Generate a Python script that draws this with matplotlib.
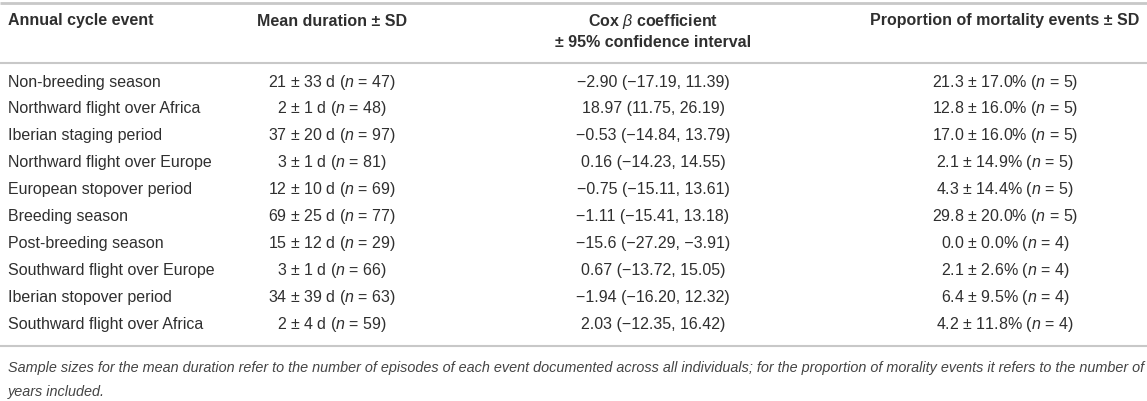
import matplotlib.pyplot as plt

plt.rcParams['font.family'] = ['Liberation Sans', 'DejaVu Sans']
plt.rcParams['mathtext.fontset'] = 'custom'
plt.rcParams['mathtext.rm'] = 'Liberation Sans'
plt.rcParams['mathtext.it'] = 'Liberation Sans:italic'
plt.rcParams['mathtext.bf'] = 'Liberation Sans:bold'

# Données du tableau
events = ["Non-breeding season", "Northward flight over Africa", "Iberian staging period",
          "Northward flight over Europe", "European stopover period", "Breeding season",
          "Post-breeding season", "Southward flight over Europe", "Iberian stopover period",
          "Southward flight over Africa"]
mean_dur = [21, 2, 37, 3, 12, 69, 15, 3, 34, 2]
sd_dur = [33, 1, 20, 1, 10, 25, 12, 1, 39, 4]
n_dur = [47, 48, 97, 81, 69, 77, 29, 66, 63, 59]
cox_beta = ["−2.90", "18.97", "−0.53", "0.16", "−0.75", "−1.11", "−15.6", "0.67", "−1.94", "2.03"]
ci_lo = ["−17.19", "11.75", "−14.84", "−14.23", "−15.11", "−15.41", "−27.29", "−13.72", "−16.20", "−12.35"]
ci_hi = ["11.39", "26.19", "13.79", "14.55", "13.61", "13.18", "−3.91", "15.05", "12.32", "16.42"]
prop = [21.3, 12.8, 17.0, 2.1, 4.3, 29.8, 0.0, 2.1, 6.4, 4.2]
prop_sd = [17.0, 16.0, 16.0, 14.9, 14.4, 20.0, 0.0, 2.6, 9.5, 11.8]
n_prop = [5, 5, 5, 5, 5, 5, 4, 4, 4, 4]

headers = ["Annual cycle event", "Mean duration ± SD",
           "Cox $\\beta$ coefficient\n± 95% confidence interval",
           "Proportion of mortality events ± SD"]
footnote = ("Sample sizes for the mean duration refer to the number of episodes of each event documented "
            "across all individuals; for the proportion of morality events it refers to the number of\n"
            "years included.")

W, H = 1147, 401
fig = plt.figure(figsize=(W / 100, H / 100), dpi=100)
ax = fig.add_axes([0, 0, 1, 1])
ax.set_xlim(0, W)
ax.set_ylim(H, 0)
ax.axis('off')

txt = '#2f2f2f'
lc = '#c8c8c8'
col_x = [8, 332, 653, 1005]
fs = 11.5

# lignes horizontales
for y, lw in [(3, 2.0), (63, 1.5), (346, 1.5)]:
    ax.plot([0, W], [y, y], color=lc, lw=lw, solid_capstyle='butt')

# en-têtes
ax.text(col_x[0], 21, headers[0], ha='left', va='center', fontsize=fs, fontweight='bold', color=txt)
ax.text(col_x[1], 21, headers[1], ha='center', va='center', fontsize=fs, fontweight='bold', color=txt)
ax.text(col_x[2], 31, headers[2], ha='center', va='center', fontsize=fs, fontweight='bold',
        color=txt, linespacing=1.35)
ax.text(col_x[3], 21, headers[3], ha='center', va='center', fontsize=fs, fontweight='bold', color=txt)

# lignes de données
for i, ev in enumerate(events):
    y = 82 + i * 26.9
    ax.text(col_x[0], y, ev, ha='left', va='center', fontsize=fs, color=txt)
    ax.text(col_x[1], y, f"{mean_dur[i]} ± {sd_dur[i]} d ($n$ = {n_dur[i]})",
            ha='center', va='center', fontsize=fs, color=txt)
    ax.text(col_x[2], y, f"{cox_beta[i]} ({ci_lo[i]}, {ci_hi[i]})",
            ha='center', va='center', fontsize=fs, color=txt)
    ax.text(col_x[3], y, f"{prop[i]:.1f} ± {prop_sd[i]:.1f}% ($n$ = {n_prop[i]})",
            ha='center', va='center', fontsize=fs, color=txt)

ax.text(col_x[0], 380, footnote, ha='left', va='center', fontsize=10.4, style='italic',
        color='#444444', linespacing=1.9)

fig.savefig("out.png", dpi=100)
